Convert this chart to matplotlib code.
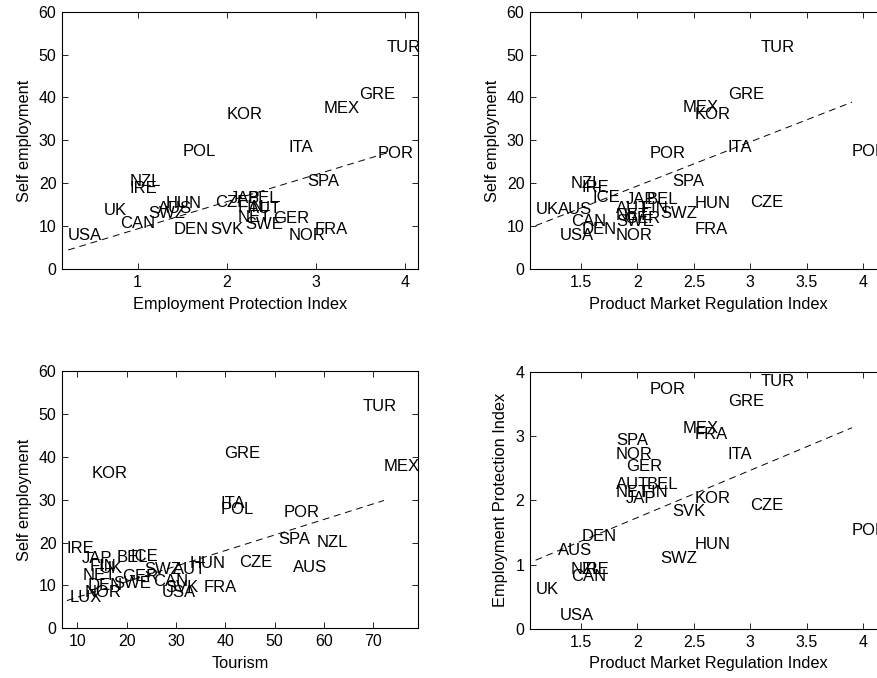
import matplotlib.pyplot as plt
import numpy as np

plt.rcParams['font.family'] = ['Liberation Sans', 'DejaVu Sans']

# painel 1: self employment x employment protection
p1_nomes = ['USA', 'UK', 'CAN', 'NZL', 'IRE', 'SWZ', 'AUS', 'HUN', 'DEN', 'SVK',
            'POL', 'CZE', 'JAP', 'BEL', 'FIN', 'AUT', 'NET', 'SWE', 'GER', 'NOR',
            'FRA', 'KOR', 'ITA', 'SPA', 'POR', 'MEX', 'GRE', 'TUR']
p1_epl = [0.22, 0.62, 0.80, 0.91, 0.91, 1.12, 1.23, 1.31, 1.40, 1.82,
          1.51, 1.87, 2.04, 2.24, 2.12, 2.24, 2.12, 2.21, 2.52, 2.70,
          2.99, 2.00, 2.70, 2.91, 3.70, 3.09, 3.49, 3.80]
p1_se = [7.9, 13.7, 10.7, 20.3, 18.7, 13.0, 14.2, 15.2, 9.2, 9.2,
         27.4, 15.4, 16.5, 16.4, 14.4, 14.0, 11.9, 10.3, 11.8, 7.9,
         9.3, 36.1, 28.4, 20.4, 27.0, 37.5, 40.8, 51.6]
p1_reta = (3.05, 6.32)  # intercepto, inclinacao

# painel 2: self employment x product market regulation
p2_nomes = ['TUR', 'GRE', 'MEX', 'KOR', 'ITA', 'POR', 'POL', 'SPA', 'NZL', 'IRE',
            'ICE', 'JAP', 'BEL', 'HUN', 'CZE', 'UK', 'AUS', 'AUT', 'FIN', 'SWZ',
            'NET', 'GER', 'SWE', 'CAN', 'DEN', 'USA', 'NOR', 'FRA']
p2_pmr = [3.09, 2.80, 2.40, 2.51, 2.80, 2.11, 3.90, 2.31, 1.41, 1.51,
          1.60, 1.90, 2.08, 2.51, 3.00, 1.10, 1.30, 1.81, 2.04, 2.20,
          1.81, 1.88, 1.81, 1.41, 1.51, 1.31, 1.81, 2.51]
p2_se = [51.6, 40.8, 37.6, 36.1, 28.4, 27.0, 27.4, 20.4, 20.0, 18.9,
         16.7, 16.2, 16.2, 15.2, 15.4, 13.8, 13.8, 14.0, 14.0, 13.0,
         12.4, 11.8, 11.0, 11.0, 9.2, 7.9, 7.9, 9.3]
p2_reta = (-1.21, 10.29)

# painel 3: self employment x tourism
p3_nomes = ['TUR', 'GRE', 'MEX', 'KOR', 'ITA', 'POL', 'POR', 'SPA', 'NZL', 'IRE',
            'JAP', 'BEL', 'ICE', 'HUN', 'CZE', 'AUS', 'FIN', 'UK', 'SWZ', 'AUT',
            'NET', 'GER', 'DEN', 'SWE', 'CAN', 'SVK', 'USA', 'NOR', 'LUX', 'FRA']
p3_tur = [67.8, 39.8, 72.2, 12.9, 39.0, 39.0, 51.9, 50.7, 58.6, 7.9,
          11.0, 18.0, 20.8, 32.8, 42.8, 53.8, 12.5, 14.5, 23.5, 29.5,
          11.1, 19.0, 12.2, 17.3, 25.3, 27.8, 27.2, 11.4, 8.5, 35.7]
p3_se = [51.8, 40.8, 37.7, 36.0, 29.0, 27.6, 27.0, 20.7, 20.1, 18.7,
         16.3, 16.5, 16.8, 15.2, 15.4, 14.2, 14.4, 14.0, 13.7, 13.8,
         12.2, 12.0, 10.0, 10.5, 10.8, 9.6, 8.3, 8.3, 7.2, 9.4]
p3_reta = (3.6, 0.363)

# painel 4: employment protection x product market regulation
p4_nomes = ['TUR', 'POR', 'GRE', 'MEX', 'FRA', 'SPA', 'NOR', 'ITA', 'GER', 'AUT',
            'BEL', 'NET', 'FIN', 'JAP', 'KOR', 'CZE', 'SVK', 'POL', 'DEN', 'HUN',
            'AUS', 'SWZ', 'NZL', 'IRE', 'CAN', 'UK', 'USA']
p4_pmr = [3.09, 2.11, 2.80, 2.40, 2.51, 1.81, 1.81, 2.80, 1.90, 1.81,
          2.08, 1.81, 2.04, 1.90, 2.51, 3.00, 2.31, 3.90, 1.51, 2.51,
          1.30, 2.20, 1.41, 1.51, 1.41, 1.10, 1.31]
p4_epl = [3.85, 3.73, 3.53, 3.12, 3.03, 2.93, 2.72, 2.72, 2.52, 2.24,
          2.24, 2.12, 2.12, 2.03, 2.03, 1.92, 1.82, 1.53, 1.43, 1.31,
          1.22, 1.10, 0.92, 0.92, 0.82, 0.61, 0.21]
p4_reta = (0.26, 0.7356)


def painel(ax, nomes, x, y, reta, xlim, ylim, xticks, yticks, xlabel, ylabel):
    for n, xi, yi in zip(nomes, x, y):
        ax.text(xi, yi, n, ha='left', va='center', fontsize=12)
    xs = np.array([min(x), max(x)])
    ax.plot(xs, reta[0] + reta[1] * xs, color='k', lw=0.7, linestyle=(0, (7, 5)))
    ax.set_xlim(xlim)
    ax.set_ylim(ylim)
    ax.set_xticks(xticks)
    ax.set_xticklabels([('%g' % t) for t in xticks])
    ax.set_yticks(yticks)
    ax.set_xlabel(xlabel, fontsize=11.8, labelpad=5)
    ax.set_ylabel(ylabel, fontsize=11.8, labelpad=5)
    ax.tick_params(direction='in', top=True, right=True, length=4, width=0.6,
                   labelsize=11.5, pad=4)
    for s in ax.spines.values():
        s.set_linewidth(0.8)


fig = plt.figure(figsize=(8.78, 6.78), dpi=100)
w, h = 0.4055, 0.3795
ax1 = fig.add_axes([0.0706, 0.6032, w, h])
ax2 = fig.add_axes([0.6036, 0.6032, w, h])
ax3 = fig.add_axes([0.0706, 0.0733, w, h])
ax4 = fig.add_axes([0.6036, 0.0723, w, h])

painel(ax1, p1_nomes, p1_epl, p1_se, p1_reta, (0.15, 4.15), (0, 60),
       [1, 2, 3, 4], range(0, 61, 10), 'Employment Protection Index', 'Self employment')
painel(ax2, p2_nomes, p2_pmr, p2_se, p2_reta, (1.05, 4.2), (0, 60),
       [1.5, 2, 2.5, 3, 3.5, 4], range(0, 61, 10), 'Product Market Regulation Index', 'Self employment')
painel(ax3, p3_nomes, p3_tur, p3_se, p3_reta, (6.9, 79.1), (0, 60),
       range(10, 71, 10), range(0, 61, 10), 'Tourism', 'Self employment')
painel(ax4, p4_nomes, p4_pmr, p4_epl, p4_reta, (1.05, 4.2), (0, 4),
       [1.5, 2, 2.5, 3, 3.5, 4], range(0, 5), 'Product Market Regulation Index', 'Employment Protection Index')

fig.savefig('out.png', dpi=100)
